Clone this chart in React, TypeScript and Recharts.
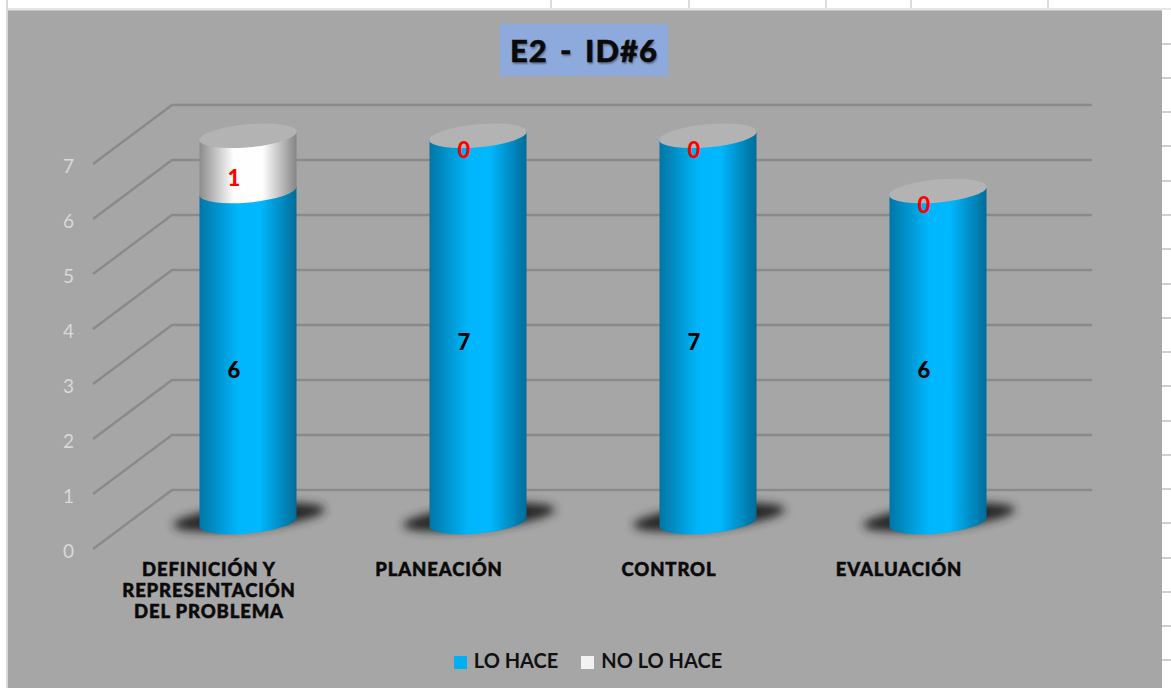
import React from 'react';
import {
    Bar,
    BarChart,
    CartesianGrid,
    LabelList,
    Legend,
    XAxis,
    YAxis,
} from 'recharts';

const categories = ['DEFINICIÓN Y\nREPRESENTACIÓN\nDEL PROBLEMA', 'PLANEACIÓN', 'CONTROL', 'EVALUACIÓN'];
const loHace = [6, 7, 7, 6];
const noLoHace = [1, 0, 0, 0];
const yTicks = [0, 1, 2, 3, 4, 5, 6, 7];

// spreadsheet cell borders showing around the chart object
const sheetColumns = [550, 688, 825, 910, 1047];
const sheetRows = [43, 77, 111, 145, 180, 214, 248, 283, 317, 351, 385, 420, 454, 488, 522, 557, 591, 625, 659];

const data = categories.map((name, i) => ({ name, loHace: loHace[i], noLoHace: noLoHace[i] }));

const TILT = -5.3;
const TILT_DROP = 9;
const RY = 11.5;

function GridLine({ x1, y1, x2 }: any) {
    return <path d={`M${x1},${y1} L${x1 + 79},${y1 - 59} L${x2},${y1 - 59}`} fill="none" stroke="#8a8a8a" strokeWidth={2.4} />;
}

function cylinderBody(x: number, y: number, w: number, h: number) {
    const rx = w / 2;
    return `M${x},${y} L${x + w},${y - TILT_DROP} L${x + w},${y + h - TILT_DROP} A${rx},${RY} ${TILT} 0 1 ${x},${y + h} Z`;
}

function LowerCylinder({ x, y, width, height }: any) {
    const cx = x + width / 2;
    const cy = y + height - 9;
    return (
        <g>
            <ellipse
                cx={cx + 1}
                cy={cy}
                rx={76}
                ry={12}
                transform={`rotate(-6 ${cx} ${cy})`}
                fill="#262626"
                filter="url(#floorShadow)"
            />
            <path d={cylinderBody(x, y, width, height)} fill="url(#blueSide)" />
        </g>
    );
}

function UpperCylinder({ x, y, width, height }: any) {
    const cx = x + width / 2;
    const cy = y - TILT_DROP / 2;
    return (
        <g>
            {height > 0 && <path d={cylinderBody(x, y, width, height)} fill="url(#whiteSide)" />}
            <ellipse cx={cx} cy={cy} rx={width / 2 + 0.5} ry={RY} transform={`rotate(${TILT} ${cx} ${cy})`} fill="#b3b3b3" />
        </g>
    );
}

function CategoryTick({ x, y, payload }: any) {
    const lines = String(payload.value).split('\n');
    return (
        <text
            x={x - 38.5}
            y={y}
            textAnchor="middle"
            fill="#0a0a0a"
            stroke="#0a0a0a"
            strokeWidth={0.5}
            style={{ fontFamily: 'Lato', fontWeight: 900, fontSize: 18.5, letterSpacing: 0.85 }}
        >
            {lines.map((line, i) => (
                <tspan key={line} x={x - 38.5} y={y + 19 + i * 21}>
                    {line}
                </tspan>
            ))}
        </text>
    );
}

const legendText = (value: string, _entry: any, index: number) => (
    <span style={{ color: '#111', marginLeft: 3, marginRight: index === 0 ? 13 : 0 }}>{value}</span>
);

export default function App() {
    return (
        <div style={{ position: 'relative', width: 1171, height: 688, overflow: 'hidden', background: '#fff' }}>
            <style>{'body{margin:0}'}</style>
            {sheetColumns.map((x) => (
                <div key={x} style={{ position: 'absolute', left: x, top: 0, width: 2, height: 10, background: '#dcdcdc' }} />
            ))}
            {sheetRows.map((y) => (
                <div key={y} style={{ position: 'absolute', left: 1162, top: y, width: 9, height: 2, background: '#d0d0d0' }} />
            ))}
            <div style={{ position: 'absolute', left: 6, top: 0, width: 2, height: 688, background: '#d9d9d9' }} />
            <div style={{ position: 'absolute', left: 8, top: 8, width: 1163, height: 2, background: '#e6e6e6' }} />
            <div
                style={{
                    position: 'absolute',
                    left: 8,
                    top: 10,
                    width: 1154,
                    height: 678,
                    background: '#a6a6a6',
                    borderTop: '1px solid #c4c4c4',
                    boxSizing: 'border-box',
                }}
            />
            <div
                style={{
                    position: 'absolute',
                    left: 500,
                    top: 24,
                    width: 168,
                    height: 52,
                    background: '#8ea9db',
                    color: '#0a0a0a',
                    fontFamily: 'Lato',
                    fontWeight: 900,
                    fontSize: 31,
                    letterSpacing: 1,
                    wordSpacing: 4,
                    lineHeight: '52px',
                    textAlign: 'center',
                    whiteSpace: 'pre',
                    WebkitTextStroke: '0.5px #0a0a0a',
                    textShadow: '1px 2px 2px rgba(0,0,0,0.35)',
                }}
            >
                E2 - ID#6
            </div>
            <BarChart
                width={1171}
                height={688}
                data={data}
                margin={{ top: 105, right: 79, bottom: 0, left: 0 }}
                style={{ position: 'absolute', left: 0, top: 0 }}
            >
                <defs>
                    <linearGradient id="blueSide" x1="0" y1="0" x2="1" y2="0">
                        <stop offset="0%" stopColor="#0076a6" />
                        <stop offset="40%" stopColor="#00b6fb" />
                        <stop offset="62%" stopColor="#00b8ff" />
                        <stop offset="100%" stopColor="#006c98" />
                    </linearGradient>
                    <linearGradient id="whiteSide" x1="0" y1="0" x2="1" y2="0">
                        <stop offset="0%" stopColor="#8c8c8c" />
                        <stop offset="35%" stopColor="#fdfdfd" />
                        <stop offset="65%" stopColor="#ffffff" />
                        <stop offset="100%" stopColor="#858585" />
                    </linearGradient>
                    <filter id="floorShadow" x="-30%" y="-80%" width="160%" height="260%">
                        <feGaussianBlur stdDeviation="5" />
                    </filter>
                </defs>
                <CartesianGrid yAxisId="front" vertical={false} horizontal={GridLine} syncWithTicks />
                <XAxis
                    dataKey="name"
                    height={139}
                    interval={0}
                    axisLine={false}
                    tickLine={false}
                    padding={{ left: 39.5, right: 39.5 }}
                    tick={CategoryTick}
                />
                <YAxis
                    yAxisId="front"
                    width={93}
                    allowDataOverflow
                    domain={[0, 8.073]}
                    ticks={yTicks}
                    axisLine={false}
                    tickLine={false}
                    tickMargin={13}
                    dy={2}
                    tick={{ fill: '#d9d9d9', fontSize: 19, fontFamily: 'Lato' }}
                />
                {/* the columns stand on the floor, a little behind the front axis */}
                <YAxis yAxisId="bars" hide width={0} allowDataOverflow domain={[-0.41, 7.64]} />
                <Bar
                    yAxisId="bars"
                    dataKey="loHace"
                    name="LO HACE"
                    stackId="a"
                    barSize={97}
                    fill="#00b0f0"
                    legendType="square"
                    shape={LowerCylinder}
                    isAnimationActive={false}
                >
                    <LabelList
                        dataKey="loHace"
                        position="center"
                        dx={-14}
                        dy={9}
                        fill="#000"
                        style={{ fontFamily: 'Lato', fontWeight: 900, fontSize: 22 }}
                    />
                </Bar>
                <Bar
                    yAxisId="bars"
                    dataKey="noLoHace"
                    name="NO LO HACE"
                    stackId="a"
                    barSize={97}
                    fill="#f2f2f2"
                    legendType="square"
                    shape={UpperCylinder}
                    isAnimationActive={false}
                >
                    <LabelList
                        dataKey="noLoHace"
                        position="center"
                        dx={-14}
                        dy={10}
                        fill="#ff0000"
                        style={{ fontFamily: 'Lato', fontWeight: 900, fontSize: 22 }}
                    />
                </Bar>
                <Legend
                    verticalAlign="middle"
                    align="center"
                    iconSize={13}
                    formatter={legendText}
                    wrapperStyle={{
                        top: 648,
                        left: 443,
                        width: 300,
                        fontFamily: 'Lato',
                        fontWeight: 700,
                        fontSize: 20,
                    }}
                />
            </BarChart>
        </div>
    );
}
